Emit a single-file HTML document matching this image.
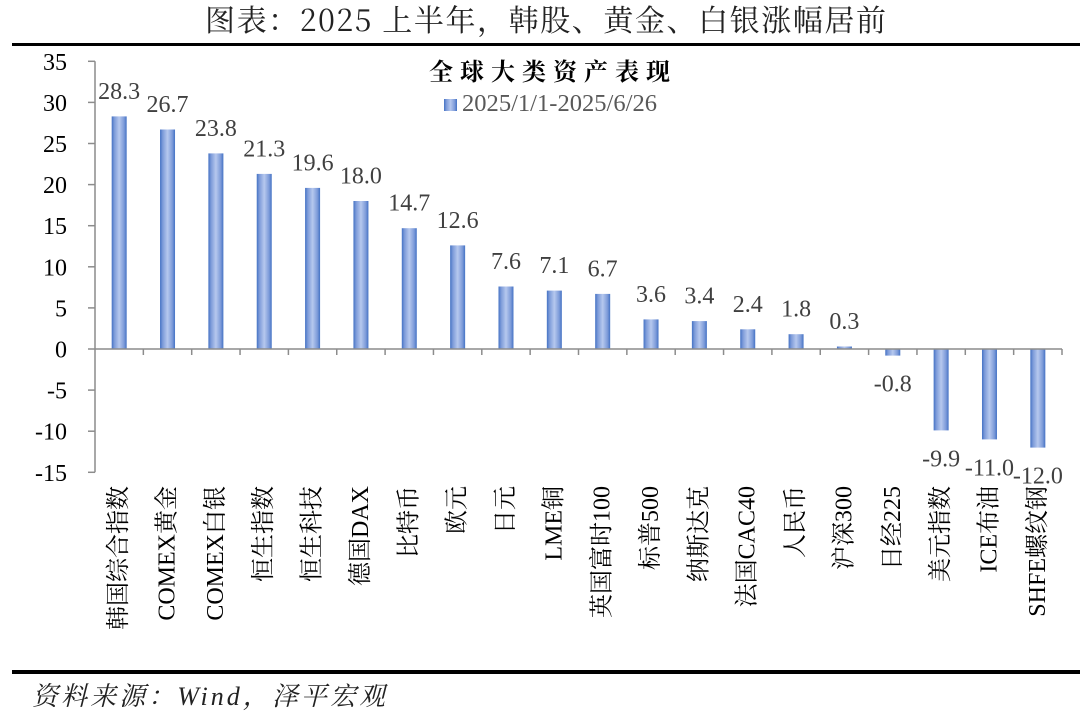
<!DOCTYPE html>
<html>
<head>
<meta charset="utf-8">
<style>
html,body{margin:0;padding:0;background:#fff;}
svg{display:block;}
</style>
</head>
<body>
<svg width="1080" height="718" viewBox="0 0 1080 718" xmlns="http://www.w3.org/2000/svg">
<defs>
<linearGradient id="bg" x1="0" y1="0" x2="1" y2="0">
<stop offset="0" stop-color="#4472c4"/>
<stop offset="0.18" stop-color="#7d9bd9"/>
<stop offset="0.5" stop-color="#b6c8ee"/>
<stop offset="0.82" stop-color="#7d9bd9"/>
<stop offset="1" stop-color="#4472c4"/>
</linearGradient>
</defs>
<rect width="1080" height="718" fill="#fff"/>

<!-- Title -->
<text x="205" y="31" font-family="Noto Serif CJK SC, serif" font-size="30" fill="#222" textLength="681" lengthAdjust="spacing">图表：2025 上半年，韩股、黄金、白银涨幅居前</text>
<rect x="12" y="43" width="1068" height="3" fill="#000"/>

<!-- Chart title -->
<g font-family="Noto Serif CJK SC, serif" font-size="24" font-weight="bold" fill="#000">
<text x="429" y="80">全</text><text x="460" y="80">球</text><text x="491" y="80">大</text><text x="522" y="80">类</text><text x="553" y="80">资</text><text x="584" y="80">产</text><text x="615" y="80">表</text><text x="646" y="80">现</text>
</g>
<!-- Legend -->
<rect x="444" y="99" width="13" height="12" fill="url(#bg)"/>
<text x="462" y="111" font-family="Liberation Serif, serif" font-size="24" fill="#595959" textLength="195" lengthAdjust="spacingAndGlyphs">2025/1/1-2025/6/26</text>

<!-- Axes -->
<g stroke="#8c8c8c" stroke-width="1.5" fill="none">
<line x1="95" y1="61.3" x2="95" y2="472.3"/>
<line x1="88" y1="61.3" x2="95" y2="61.3"/>
<line x1="88" y1="102.4" x2="95" y2="102.4"/>
<line x1="88" y1="143.5" x2="95" y2="143.5"/>
<line x1="88" y1="184.6" x2="95" y2="184.6"/>
<line x1="88" y1="225.7" x2="95" y2="225.7"/>
<line x1="88" y1="266.8" x2="95" y2="266.8"/>
<line x1="88" y1="307.9" x2="95" y2="307.9"/>
<line x1="88" y1="349" x2="95" y2="349"/>
<line x1="88" y1="390.1" x2="95" y2="390.1"/>
<line x1="88" y1="431.2" x2="95" y2="431.2"/>
<line x1="88" y1="472.3" x2="95" y2="472.3"/>
</g>

<!-- Y tick labels -->
<g font-family="Liberation Serif, serif" font-size="24" fill="#000" text-anchor="end">
<text x="67" y="69.8">35</text>
<text x="67" y="110.9">30</text>
<text x="67" y="152">25</text>
<text x="67" y="193.1">20</text>
<text x="67" y="234.2">15</text>
<text x="67" y="275.3">10</text>
<text x="67" y="316.4">5</text>
<text x="67" y="357.5">0</text>
<text x="67" y="398.6">-5</text>
<text x="67" y="439.7">-10</text>
<text x="67" y="480.8">-15</text>
</g>

<!-- Bars -->
<g fill="url(#bg)">
<rect x="111.68" y="116.4" width="15" height="232.6"/>
<rect x="160.03" y="129.5" width="15" height="219.5"/>
<rect x="208.38" y="153.4" width="15" height="195.6"/>
<rect x="256.73" y="173.9" width="15" height="175.1"/>
<rect x="305.08" y="187.9" width="15" height="161.1"/>
<rect x="353.43" y="201.0" width="15" height="148.0"/>
<rect x="401.78" y="228.2" width="15" height="120.8"/>
<rect x="450.13" y="245.4" width="15" height="103.6"/>
<rect x="498.48" y="286.5" width="15" height="62.5"/>
<rect x="546.83" y="290.6" width="15" height="58.4"/>
<rect x="595.18" y="293.9" width="15" height="55.1"/>
<rect x="643.53" y="319.4" width="15" height="29.6"/>
<rect x="691.88" y="321.1" width="15" height="27.9"/>
<rect x="740.23" y="329.3" width="15" height="19.7"/>
<rect x="788.58" y="334.2" width="15" height="14.8"/>
<rect x="836.93" y="346.5" width="15" height="2.5"/>
<rect x="885.28" y="349" width="15" height="6.6"/>
<rect x="933.63" y="349" width="15" height="81.4"/>
<rect x="981.98" y="349" width="15" height="90.4"/>
<rect x="1030.33" y="349" width="15" height="98.6"/>
</g>

<!-- X axis (zero line) and category ticks -->
<g stroke="#8c8c8c" stroke-width="1.5" fill="none">
<line x1="95" y1="349" x2="1062" y2="349"/>
<line x1="143.35" y1="349" x2="143.35" y2="355"/>
<line x1="191.7" y1="349" x2="191.7" y2="355"/>
<line x1="240.05" y1="349" x2="240.05" y2="355"/>
<line x1="288.4" y1="349" x2="288.4" y2="355"/>
<line x1="336.75" y1="349" x2="336.75" y2="355"/>
<line x1="385.1" y1="349" x2="385.1" y2="355"/>
<line x1="433.45" y1="349" x2="433.45" y2="355"/>
<line x1="481.8" y1="349" x2="481.8" y2="355"/>
<line x1="530.15" y1="349" x2="530.15" y2="355"/>
<line x1="578.5" y1="349" x2="578.5" y2="355"/>
<line x1="626.85" y1="349" x2="626.85" y2="355"/>
<line x1="675.2" y1="349" x2="675.2" y2="355"/>
<line x1="723.55" y1="349" x2="723.55" y2="355"/>
<line x1="771.9" y1="349" x2="771.9" y2="355"/>
<line x1="820.25" y1="349" x2="820.25" y2="355"/>
<line x1="868.6" y1="349" x2="868.6" y2="355"/>
<line x1="916.95" y1="349" x2="916.95" y2="355"/>
<line x1="965.3" y1="349" x2="965.3" y2="355"/>
<line x1="1013.65" y1="349" x2="1013.65" y2="355"/>
<line x1="1062" y1="349" x2="1062" y2="355"/>
</g>

<!-- Data labels -->
<g font-family="Liberation Serif, serif" font-size="24" fill="#404040" text-anchor="middle">
<text x="119.18" y="98.9">28.3</text>
<text x="167.53" y="112">26.7</text>
<text x="215.88" y="135.9">23.8</text>
<text x="264.23" y="156.4">21.3</text>
<text x="312.58" y="170.4">19.6</text>
<text x="360.93" y="183.5">18.0</text>
<text x="409.28" y="210.7">14.7</text>
<text x="457.63" y="227.9">12.6</text>
<text x="505.98" y="269">7.6</text>
<text x="554.33" y="273.1">7.1</text>
<text x="602.68" y="276.4">6.7</text>
<text x="651.03" y="301.9">3.6</text>
<text x="699.38" y="303.6">3.4</text>
<text x="747.73" y="311.8">2.4</text>
<text x="796.08" y="316.7">1.8</text>
<text x="844.43" y="329">0.3</text>
<text x="892.78" y="391.6">-0.8</text>
<text x="941.13" y="466.4">-9.9</text>
<text x="989.48" y="475.4">-11.0</text>
<text x="1037.83" y="483.6">-12.0</text>
</g>

<!-- Category labels -->
<g font-family="Liberation Serif, Noto Serif CJK SC, serif" font-size="24" fill="#000" text-anchor="end" dominant-baseline="central">
<text transform="translate(119.18,486) rotate(-90)">韩国综合指数</text>
<text transform="translate(167.53,486) rotate(-90)">COMEX黄金</text>
<text transform="translate(215.88,486) rotate(-90)">COMEX白银</text>
<text transform="translate(264.23,486) rotate(-90)">恒生指数</text>
<text transform="translate(312.58,486) rotate(-90)">恒生科技</text>
<text transform="translate(360.93,486) rotate(-90)">德国DAX</text>
<text transform="translate(409.28,486) rotate(-90)">比特币</text>
<text transform="translate(457.63,486) rotate(-90)">欧元</text>
<text transform="translate(505.98,486) rotate(-90)">日元</text>
<text transform="translate(554.33,486) rotate(-90)">LME铜</text>
<text transform="translate(602.68,486) rotate(-90)">英国富时100</text>
<text transform="translate(651.03,486) rotate(-90)">标普500</text>
<text transform="translate(699.38,486) rotate(-90)">纳斯达克</text>
<text transform="translate(747.73,486) rotate(-90)">法国CAC40</text>
<text transform="translate(796.08,486) rotate(-90)">人民币</text>
<text transform="translate(844.43,486) rotate(-90)">沪深300</text>
<text transform="translate(892.78,486) rotate(-90)">日经225</text>
<text transform="translate(941.13,486) rotate(-90)">美元指数</text>
<text transform="translate(989.48,486) rotate(-90)">ICE布油</text>
<text transform="translate(1037.83,486) rotate(-90)">SHFE螺纹钢</text>
</g>

<!-- Bottom rule and source -->
<rect x="12" y="670" width="1068" height="4" fill="#000"/>
<text x="32" y="705" font-family="Liberation Serif, Noto Serif CJK SC, serif" font-size="26" font-style="italic" fill="#222" textLength="353" lengthAdjust="spacing">资料来源：Wind，泽平宏观</text>
</svg>
</body>
</html>
